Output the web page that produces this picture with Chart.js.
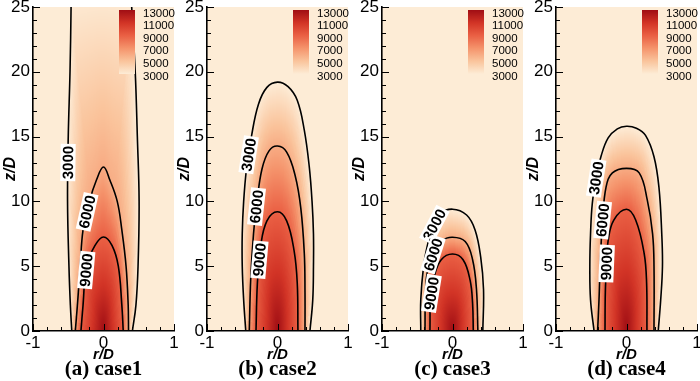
<!DOCTYPE html>
<html><head><meta charset="utf-8">
<script src="https://cdn.jsdelivr.net/npm/chart.js@4/dist/chart.umd.min.js"></script>
<style>
html,body{margin:0;padding:0;background:#fff;width:700px;height:381px;overflow:hidden}
.panel{position:absolute;top:0;width:178px;height:381px}
</style></head><body>
<div class="panel" style="left:0px"><canvas id="c0" width="178" height="381"></canvas></div>
<div class="panel" style="left:174px"><canvas id="c1" width="178" height="381"></canvas></div>
<div class="panel" style="left:349px"><canvas id="c2" width="178" height="381"></canvas></div>
<div class="panel" style="left:523px"><canvas id="c3" width="178" height="381"></canvas></div>
<script>
// ---- data ----
const rTicks = [-1, 0, 1];
const zTicks = [0, 5, 10, 15, 20, 25];
const levels = [3000, 6000, 9000];
const barLabels = [13000, 11000, 9000, 7000, 5000, 3000];
const captions = ['(a) case1', '(b) case2', '(c) case3', '(d) case4'];
const peakValue = 13000;

// contour lines [r/D, z/D], from bottom-left, over the tip, down to bottom-right
const case1_3000 = [[-0.45,0],[-0.47,2],[-0.49,5],[-0.51,10],[-0.50,15],[-0.475,20],[-0.46,25],[-0.46,26],[0.40,26],[0.40,25],[0.45,20],[0.48,15],[0.505,10],[0.49,5],[0.46,2],[0.41,0]];
const case1_6000 = [[-0.40,0],[-0.37,2],[-0.33,5],[-0.29,7.8],[-0.20,10],[-0.10,11.65],[0,12.65],[0.09,11.65],[0.195,10],[0.26,7.8],[0.32,5],[0.35,2],[0.355,0]];
const case1_9000 = [[-0.32,0],[-0.29,2],[-0.24,5],[-0.12,6.6],[0,7.25],[0.12,6.6],[0.21,5],[0.26,2],[0.28,0]];

const case2_3000 = [[-0.45,0],[-0.48,2.4],[-0.50,5],[-0.50,7.5],[-0.48,10],[-0.44,12.5],[-0.37,15],[-0.27,17.5],[-0.15,18.8],[0,19.2],[0.15,18.85],[0.28,17.8],[0.38,15.5],[0.45,12.7],[0.49,10],[0.51,7.5],[0.51,5],[0.50,2.4],[0.46,0]];
const case2_6000 = [[-0.40,0],[-0.38,4],[-0.34,7.5],[-0.29,10],[-0.22,12.5],[-0.12,13.9],[0,14.27],[0.13,13.8],[0.25,12],[0.33,9.5],[0.38,6],[0.39,3],[0.39,0]];
const case2_9000 = [[-0.305,0],[-0.285,3.7],[-0.24,6.5],[-0.15,8.5],[0,9.2],[0.13,8.5],[0.235,6.2],[0.28,3.7],[0.29,0]];

const case3_3000 = [[-0.45,0],[-0.45,2.4],[-0.41,5],[-0.36,6.5],[-0.295,7.8],[-0.18,9.0],[0,9.4],[0.2,8.95],[0.32,7.8],[0.40,5.7],[0.44,3.2],[0.43,0]];
const case3_6000 = [[-0.39,0],[-0.385,2.4],[-0.36,4.45],[-0.27,6.0],[-0.15,6.95],[0,7.23],[0.18,6.9],[0.285,5.5],[0.34,3.2],[0.36,0]];
const case3_9000 = [[-0.32,0],[-0.31,2.5],[-0.26,4.2],[-0.16,5.5],[0,5.94],[0.15,5.5],[0.25,3.9],[0.285,2.1],[0.295,0]];

const case4_3000 = [[-0.46,0],[-0.51,2.4],[-0.52,5],[-0.51,7.5],[-0.485,9.85],[-0.43,11.8],[-0.36,13.5],[-0.26,14.9],[-0.13,15.6],[0,15.8],[0.14,15.65],[0.27,15.1],[0.39,13.45],[0.46,11.1],[0.50,7.5],[0.51,5],[0.485,2.4],[0.45,0]];
const case4_6000 = [[-0.41,0],[-0.39,2.4],[-0.37,5.5],[-0.34,8.5],[-0.29,11.1],[-0.2,12.2],[0,12.55],[0.18,12.2],[0.295,10.1],[0.37,7.5],[0.39,5],[0.39,0]];
const case4_9000 = [[-0.305,0],[-0.30,3],[-0.28,5.5],[-0.26,7.0],[-0.18,8.56],[0,9.39],[0.13,8.56],[0.25,6.0],[0.285,3.7],[0.29,0]];

// z/D where the in-line labels sit on the left branch of each contour
const case1_labelZ = [13.0, 9.2, 4.7];
const case2_labelZ = [13.6, 9.6, 5.5];
const case3_labelZ = [8.2, 5.9, 2.9];
const case4_labelZ = [11.8, 8.56, 5.2];

const cases = [
  {contours:[case1_3000, case1_6000, case1_9000], labelZ: case1_labelZ},
  {contours:[case2_3000, case2_6000, case2_9000], labelZ: case2_labelZ},
  {contours:[case3_3000, case3_6000, case3_9000], labelZ: case3_labelZ},
  {contours:[case4_3000, case4_6000, case4_9000], labelZ: case4_labelZ}
];

// ---- styling ----
const cmap = [[3000,[253,236,214]],[5000,[250,196,156]],[7000,[245,148,108]],[9000,[234,96,68]],[11000,[210,52,38]],[13000,[160,14,20]]];
function colorOf(v){
  if (v <= cmap[0][0]) return cmap[0][1];
  for (let i=1;i<cmap.length;i++){
    if (v <= cmap[i][0]){
      const a=cmap[i-1], b=cmap[i], t=(v-a[0])/(b[0]-a[0]);
      return [0,1,2].map(j=>a[1][j]+(b[1][j]-a[1][j])*t);
    }
  }
  return cmap[cmap.length-1][1];
}
const SANS = "'Liberation Sans', Arial, sans-serif";

const fieldPlugin = {
  id:'field',
  beforeDraw(chart){
    const area=chart.chartArea, xs=chart.scales.x, ys=chart.scales.y;
    const cx=xs.getPixelForValue(0), cy=ys.getPixelForValue(0);
    const M=80;
    const off=document.createElement('canvas'); off.width=chart.width; off.height=chart.height+M;
    const octx=off.getContext('2d');
    const NA=1801, radii=[];
    chart.data.datasets.forEach((ds,k)=>{
      const meta=chart.getDatasetMeta(k), line=meta.dataset;
      line.updateControlPoints(area, meta.iScale.axis);
      octx.setTransform(1,0,0,1,0,0); octx.clearRect(0,0,off.width,off.height);
      octx.translate(0,M);
      octx.beginPath(); line.path(octx); octx.closePath(); octx.fillStyle='#fff'; octx.fill();
      const img=octx.getImageData(0,0,off.width,off.height).data, OW=off.width, OH=off.height;
      const inside=(px,py)=>{const X=Math.round(px),Y=Math.round(py+M);if(X<0||Y<0||X>=OW||Y>=OH)return false;return img[(Y*OW+X)*4+3]>127;};
      const R=new Float32Array(NA);
      for(let a=0;a<NA;a++){
        const th=-Math.PI/2+Math.PI*a/(NA-1), dx=Math.sin(th), dy=-Math.cos(th);
        let r=0; while(r<700 && inside(cx+dx*r, cy-1+dy*r)) r+=0.5;
        R[a]=Math.max(r,0.5);
      }
      radii.push(R);
    });
    const W=Math.round(area.right-area.left), H=Math.round(area.bottom-area.top);
    const fc=document.createElement('canvas'); fc.width=W; fc.height=H;
    const fctx=fc.getContext('2d'); const im=fctx.createImageData(W,H); const d8=im.data;
    for(let py=0;py<H;py++){
      for(let px=0;px<W;px++){
        const X=area.left+px+0.5, Y=area.top+py+0.5;
        const dx=X-cx, dy=Math.max(cy-Y,0.01);
        const dist=Math.hypot(dx,dy), th=Math.atan2(dx,dy);
        let ai=Math.round((th+Math.PI/2)/Math.PI*(NA-1)); ai=Math.max(0,Math.min(NA-1,ai));
        const R3=radii[0][ai], R6=Math.min(radii[1][ai],R3), R9=Math.min(radii[2][ai],R6);
        let v;
        if(dist<=R9) v=peakValue-(peakValue-levels[2])*dist/R9;
        else if(dist<=R6) v=levels[2]-(levels[2]-levels[1])*(dist-R9)/Math.max(R6-R9,0.5);
        else if(dist<=R3) v=levels[1]-(levels[1]-levels[0])*(dist-R6)/Math.max(R3-R6,0.5);
        else v=levels[0];
        const c=colorOf(v), o=(py*W+px)*4;
        d8[o]=c[0]; d8[o+1]=c[1]; d8[o+2]=c[2]; d8[o+3]=255;
      }
    }
    fctx.putImageData(im,0,0);
    chart.ctx.drawImage(fc, area.left, area.top);
  }
};

const overlayPlugin = {
  id:'overlay',
  afterDraw(chart){
    const ctx=chart.ctx, area=chart.chartArea, xs=chart.scales.x, ys=chart.scales.y;
    const idx=chart.options.plugins.overlay.index;
    const cs=cases[idx];
    ctx.save();
    // contour labels
    cs.contours.forEach((pts,k)=>{
      const z=cs.labelZ[k];
      let top=0; pts.forEach((p,i)=>{ if(p[1]>pts[top][1]) top=i; });
      for(let i=0;i<top;i++){
        const a=pts[i], b=pts[i+1];
        if((a[1]-z)*(b[1]-z)<=0 && a[1]!==b[1]){
          const t=(z-a[1])/(b[1]-a[1]);
          const r=a[0]+(b[0]-a[0])*t;
          const px=xs.getPixelForValue(r), py=ys.getPixelForValue(z);
          const ang=Math.atan2(ys.getPixelForValue(b[1])-ys.getPixelForValue(a[1]), xs.getPixelForValue(b[0])-xs.getPixelForValue(a[0]));
          ctx.save(); ctx.translate(px,py); ctx.rotate(ang);
          ctx.font="bold 15px "+SANS;
          const txt=String(levels[k]); const w=ctx.measureText(txt).width;
          ctx.fillStyle='#fff'; ctx.fillRect(-w/2-2,-7.5,w+4,15);
          ctx.fillStyle='#000'; ctx.textAlign='center'; ctx.textBaseline='middle';
          ctx.fillText(txt,0,1);
          ctx.restore();
          break;
        }
      }
    });
    // colour bar
    const bx=area.left+86, bw=16, by=10, bh=64;
    const g=ctx.createLinearGradient(0,by,0,by+bh);
    for(let i=0;i<=20;i++){ const v=13000-10000*i/20; const c=colorOf(v); g.addColorStop(i/20,`rgb(${c[0]|0},${c[1]|0},${c[2]|0})`); }
    ctx.fillStyle=g; ctx.fillRect(bx,by,bw,bh);
    ctx.font="11.5px "+SANS; ctx.fillStyle='#000'; ctx.textAlign='left'; ctx.textBaseline='middle';
    barLabels.forEach((v,i)=>ctx.fillText(String(v), area.left+110, 13.5+i*12.6));
    // inward ticks
    ctx.strokeStyle='#000'; ctx.lineWidth=1;
    ctx.beginPath();
    for(let z=0; z<=25; z+=1){
      const y=Math.round(ys.getPixelForValue(z))+0.5;
      const L = zTicks.includes(z)?7:4;
      ctx.moveTo(area.left, y); ctx.lineTo(area.left+L, y);
    }
    for(let i=0;i<=10;i++){
      const r=-1+i*0.2; const x=Math.round(xs.getPixelForValue(r))+0.5;
      const L = (i%5===0)?7:4;
      ctx.moveTo(x, area.bottom); ctx.lineTo(x, area.bottom-L);
    }
    ctx.stroke();
    // caption
    ctx.font="bold 21px 'Liberation Serif', 'Times New Roman', serif";
    ctx.textAlign='center'; ctx.textBaseline='middle';
    ctx.fillText(captions[idx], (area.left+area.right)/2, 370);
    ctx.restore();
  }
};

cases.forEach((cs,i)=>{
  const ctx=document.getElementById('c'+i).getContext('2d');
  new Chart(ctx,{
    type:'line',
    data:{datasets: cs.contours.map((pts,k)=>({
      label:String(levels[k]),
      data: pts.map(p=>({x:p[0], y:p[1]})),
      borderColor:'#000', borderWidth:1.6, pointRadius:0, tension:0.4, fill:false
    }))},
    options:{
      responsive:false, animation:false, events:[],
      layout:{padding:{top:7,right:4,left:0,bottom:0}},
      plugins:{legend:{display:false}, tooltip:{enabled:false}, overlay:{index:i}},
      scales:{
        x:{type:'linear', min:-1, max:1,
           afterBuildTicks(s){ s.ticks=rTicks.map(v=>({value:v})); },
           afterFit(s){ s.height=50; s.paddingLeft=0; s.paddingRight=0; },
           grid:{display:false, drawTicks:false}, border:{display:true,color:'#000',width:1.6},
           ticks:{autoSkip:false, maxRotation:0, color:'#000', padding:2, font:{family:SANS,size:17}},
           title:{display:true, text:'r/D', color:'#000', font:{family:SANS,size:15,weight:'bold',style:'italic'}, padding:{top:0,bottom:17}}
        },
        y:{type:'linear', min:0, max:25,
           afterBuildTicks(s){ s.ticks=zTicks.map(v=>({value:v})); },
           afterFit(s){ s.width=33; s.paddingTop=0; s.paddingBottom=0; },
           grid:{display:false, drawTicks:false}, border:{display:true,color:'#000',width:1.6},
           ticks:{autoSkip:false, color:'#000', padding:3, font:{family:SANS,size:17}},
           title:{display:true, text:'z/D', color:'#000', font:{family:SANS,size:16,weight:'bold',style:'italic'}, padding:{top:1,bottom:0}}
        }
      }
    },
    plugins:[fieldPlugin, overlayPlugin]
  });
});
</script>
</body></html>
